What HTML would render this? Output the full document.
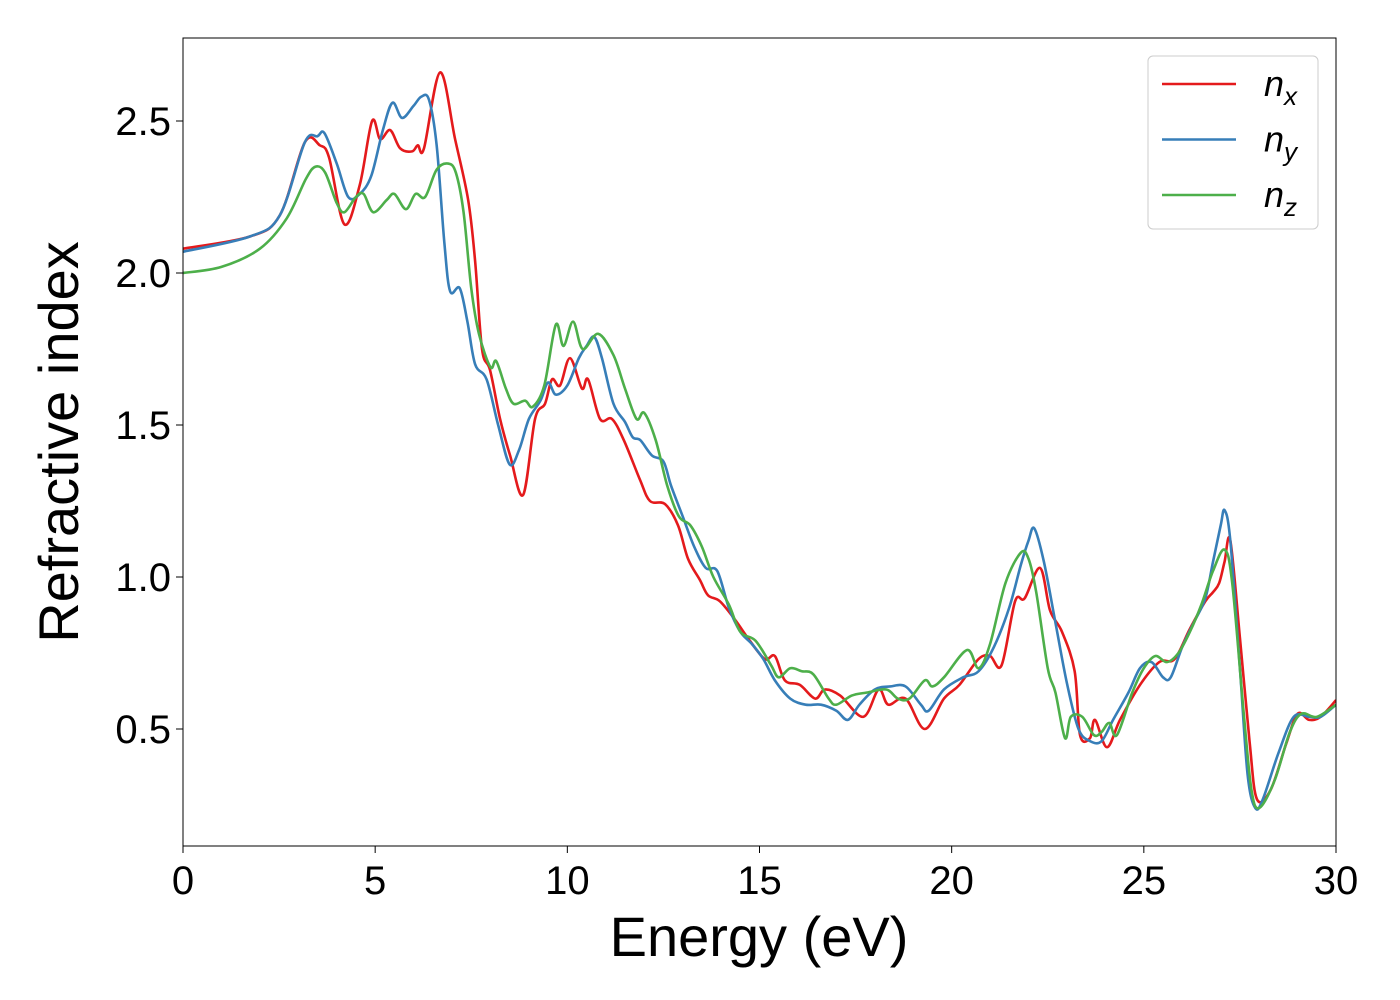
<!DOCTYPE html>
<html><head><meta charset="utf-8"><style>body{margin:0;background:#fff}svg{display:block;font-family:"Liberation Sans","DejaVu Sans",sans-serif}</style></head>
<body>
<svg id="c" width="1400" height="1000"></svg>
<script>
const xTicks=[0,5,10,15,20,25,30];
const yTicks=[0.5,1.0,1.5,2.0,2.5];
const nxE=[0,1.74,2.52,3.17,3.56,3.8,4.2,4.6,4.92,5.13,5.39,5.65,5.96,6.11,6.27,6.69,7.08,7.42,7.6,7.78,7.99,8.25,8.51,8.85,9.16,9.42,9.6,9.81,10.07,10.38,10.54,10.85,11.16,11.47,11.89,12.15,12.54,12.88,13.14,13.45,13.66,13.97,14.36,14.75,15.14,15.4,15.66,16.05,16.45,16.7,17.1,17.7,18.1,18.35,18.8,19.3,19.8,20.2,20.7,21.0,21.3,21.65,21.9,22.3,22.56,22.87,23.2,23.34,23.6,23.73,24.04,24.38,24.9,25.4,25.8,26.2,26.6,26.8,26.96,27.1,27.25,27.5,27.75,27.94,28.3,28.7,29.0,29.3,29.6,30];
const nxV=[2.08,2.12,2.19,2.43,2.42,2.38,2.16,2.29,2.50,2.44,2.47,2.41,2.40,2.42,2.41,2.66,2.44,2.24,2.04,1.75,1.68,1.52,1.40,1.27,1.52,1.57,1.65,1.63,1.72,1.62,1.65,1.52,1.52,1.45,1.32,1.25,1.24,1.17,1.06,0.99,0.94,0.92,0.86,0.79,0.73,0.74,0.66,0.645,0.60,0.63,0.61,0.54,0.63,0.58,0.60,0.50,0.60,0.645,0.73,0.74,0.71,0.92,0.93,1.03,0.89,0.82,0.69,0.48,0.47,0.53,0.44,0.53,0.645,0.72,0.73,0.83,0.92,0.95,0.98,1.05,1.12,0.80,0.46,0.27,0.30,0.45,0.55,0.53,0.54,0.595];
const nyE=[0,1.74,2.52,3.17,3.5,3.68,4.0,4.3,4.6,4.9,5.2,5.45,5.7,6.0,6.2,6.4,6.6,6.8,6.95,7.2,7.4,7.6,7.9,8.2,8.5,8.75,9.0,9.3,9.5,9.7,10.0,10.3,10.5,10.7,10.9,11.2,11.5,11.7,11.9,12.2,12.5,12.7,13.0,13.3,13.6,13.9,14.2,14.5,14.8,15.1,15.4,15.8,16.2,16.6,17.0,17.3,17.6,18.0,18.4,18.8,19.2,19.4,19.8,20.3,20.7,21.1,21.5,21.8,22.0,22.15,22.4,22.7,23.0,23.3,23.6,23.9,24.2,24.6,24.9,25.2,25.5,25.7,26.0,26.3,26.6,26.8,27.0,27.1,27.25,27.5,27.7,27.9,28.1,28.5,28.9,29.3,29.6,30];
const nyV=[2.07,2.12,2.19,2.43,2.45,2.46,2.36,2.25,2.26,2.32,2.47,2.56,2.51,2.55,2.58,2.57,2.42,2.10,1.94,1.95,1.84,1.70,1.65,1.50,1.37,1.42,1.52,1.58,1.64,1.60,1.63,1.72,1.76,1.79,1.72,1.57,1.51,1.46,1.45,1.40,1.38,1.30,1.20,1.10,1.03,1.02,0.90,0.82,0.78,0.73,0.66,0.60,0.58,0.58,0.56,0.53,0.58,0.63,0.64,0.64,0.58,0.56,0.63,0.67,0.69,0.77,0.90,1.04,1.12,1.16,1.05,0.85,0.65,0.50,0.46,0.46,0.53,0.62,0.70,0.72,0.67,0.67,0.77,0.85,0.93,1.05,1.17,1.22,1.12,0.70,0.35,0.24,0.27,0.42,0.54,0.54,0.54,0.58];
const nzE=[0,1.0,2.0,2.7,3.2,3.45,3.7,4.0,4.2,4.5,4.7,4.95,5.3,5.5,5.8,6.05,6.3,6.6,6.9,7.1,7.3,7.5,7.7,8.0,8.15,8.4,8.6,8.9,9.1,9.4,9.7,9.9,10.15,10.4,10.8,11.2,11.5,11.8,12.0,12.3,12.6,12.9,13.2,13.5,13.8,14.2,14.5,14.9,15.3,15.5,15.8,16.1,16.4,16.8,17.0,17.4,17.8,18.3,18.6,18.9,19.3,19.5,19.8,20.4,20.7,21.0,21.4,21.8,22.0,22.2,22.5,22.7,22.95,23.1,23.4,23.7,23.9,24.1,24.3,24.7,25.0,25.3,25.6,25.9,26.2,26.5,26.8,27.1,27.3,27.6,27.8,28.0,28.4,28.8,29.1,29.5,30];
const nzV=[2.00,2.02,2.08,2.18,2.31,2.35,2.33,2.23,2.20,2.25,2.26,2.20,2.24,2.26,2.21,2.26,2.25,2.34,2.36,2.33,2.20,1.95,1.80,1.69,1.71,1.62,1.57,1.58,1.56,1.63,1.83,1.76,1.84,1.75,1.80,1.73,1.62,1.52,1.54,1.45,1.30,1.20,1.17,1.10,1.00,0.91,0.82,0.79,0.71,0.67,0.70,0.69,0.68,0.60,0.58,0.61,0.62,0.63,0.60,0.60,0.66,0.64,0.67,0.76,0.70,0.78,0.98,1.08,1.06,0.95,0.70,0.62,0.47,0.54,0.54,0.48,0.49,0.52,0.48,0.62,0.70,0.74,0.72,0.75,0.82,0.91,1.02,1.09,0.98,0.55,0.30,0.24,0.33,0.49,0.55,0.54,0.58];

const L=183,R=1336,T=38,B=846;
const xs=e=>L+(e-0)/30*(R-L);
const ys=v=>881-v*304;
const svg=document.getElementById('c');
const NS='http://www.w3.org/2000/svg';
function mk(tag,attrs,parent){const el=document.createElementNS(NS,tag);for(const k in attrs)el.setAttribute(k,attrs[k]);(parent||svg).appendChild(el);return el;}
const defs=mk('defs',{});const cp=mk('clipPath',{id:'clip'},defs);mk('rect',{x:L,y:T,width:R-L,height:B-T},cp);
function path(E,V){const p=E.map((e,i)=>[xs(e),ys(V[i])]);let d='M'+p[0][0]+','+p[0][1];
for(let i=0;i<p.length-1;i++){const p0=p[Math.max(0,i-1)],p1=p[i],p2=p[i+1],p3=p[Math.min(p.length-1,i+2)];
d+=' C'+(p1[0]+(p2[0]-p0[0])/6)+','+(p1[1]+(p2[1]-p0[1])/6)+' '+(p2[0]-(p3[0]-p1[0])/6)+','+(p2[1]-(p3[1]-p1[1])/6)+' '+p2[0]+','+p2[1];}return d;}
const series=[[nxE,nxV,'#e41a1c','series-nx'],[nyE,nyV,'#377eb8','series-ny'],[nzE,nzV,'#4daf4a','series-nz']];
const g=mk('g',{'clip-path':'url(#clip)'});
series.forEach(s=>{const el=mk('path',{d:path(s[0],s[1]),fill:'none',stroke:s[2],'stroke-width':2.6},g);

});
const frame=mk('rect',{x:L,y:T,width:R-L,height:B-T,fill:'none',stroke:'#000','stroke-width':1});


xTicks.forEach(t=>{mk('line',{x1:xs(t),x2:xs(t),y1:B,y2:B+7,stroke:'#000'});
const tx=mk('text',{x:xs(t),y:B+48,'font-size':40,'text-anchor':'middle'});tx.textContent=t;

});
yTicks.forEach(t=>{mk('line',{x1:L-7,x2:L,y1:ys(t),y2:ys(t),stroke:'#000'});
const tx=mk('text',{x:L-12,y:ys(t)+14,'font-size':40,'text-anchor':'end'});tx.textContent=t.toFixed(1);

});
const xt=mk('text',{x:759,y:956,'font-size':56,'text-anchor':'middle'});xt.textContent='Energy (eV)';


const yt=mk('text',{x:78,y:442,'font-size':56,'text-anchor':'middle',transform:'rotate(-90 78 442)'});yt.textContent='Refractive index';


const lg=mk('g',{});


mk('rect',{x:1148,y:56,width:170,height:173,rx:5,fill:'#fff','fill-opacity':0.8,stroke:'#ccc'},lg);
const subs=['x','y','z'];
series.forEach((s,i)=>{const yy=84+i*55.5;mk('line',{x1:1162,x2:1236,y1:yy,y2:yy,stroke:s[2],'stroke-width':2.6},lg);
const tx=mk('text',{x:1264,y:yy+12,'font-size':36,'font-style':'italic'},lg);


tx.textContent='n';const ts=mk('tspan',{'font-size':26,dy:9},tx);ts.textContent=subs[i];});
</script>
</body></html>
